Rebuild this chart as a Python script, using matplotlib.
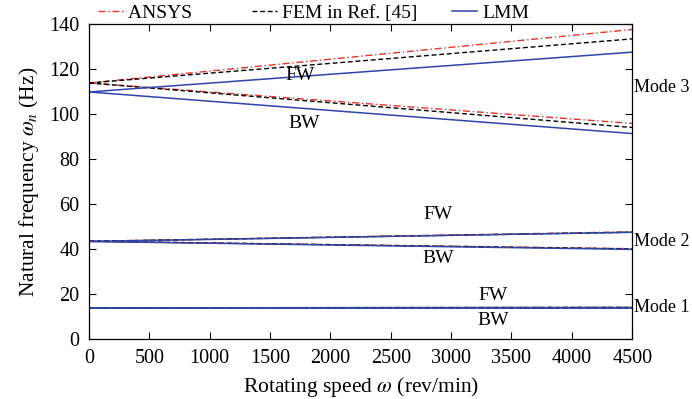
import matplotlib
matplotlib.use('Agg')
import matplotlib.pyplot as plt

plt.rcParams['font.family'] = ['Liberation Serif', 'DejaVu Serif']
plt.rcParams['mathtext.fontset'] = 'stix'

# rotating speed (rev/min), end points of each branch
speed = [0, 4500]

# ANSYS
ansys_m3_fw = [114.0, 137.8]
ansys_m3_bw = [114.0, 96.0]
ansys_m2_fw = [43.6, 47.8]
ansys_m2_bw = [43.6, 40.3]
ansys_m1_fw = [14.0, 14.2]
ansys_m1_bw = [14.0, 13.9]

# FEM in Ref. [45]
fem_m3_fw = [114.0, 133.6]
fem_m3_bw = [114.0, 94.2]
fem_m2_fw = [43.6, 47.6]
fem_m2_bw = [43.6, 40.2]
fem_m1_fw = [14.0, 14.2]
fem_m1_bw = [14.0, 13.9]

# LMM
lmm_m3_fw = [110.0, 127.7]
lmm_m3_bw = [110.0, 91.5]
lmm_m2_fw = [43.5, 47.6]
lmm_m2_bw = [43.5, 40.0]
lmm_m1_fw = [14.0, 14.1]
lmm_m1_bw = [14.0, 14.0]

xticks = [0, 500, 1000, 1500, 2000, 2500, 3000, 3500, 4000, 4500]
yticks = [0, 20, 40, 60, 80, 100, 120, 140]

red = '#e5332a'
blue = '#2f45a8'

fig = plt.figure(figsize=(6.92, 3.99), dpi=100)
ax = fig.add_axes([0.1286, 0.1496, 0.785, 0.789])

for i, y in enumerate([ansys_m3_fw, ansys_m3_bw, ansys_m2_fw, ansys_m2_bw, ansys_m1_fw, ansys_m1_bw]):
    ax.plot(speed, y, color=red, lw=1.0, dashes=(5, 2, 1, 2), label='ANSYS     ' if i == 0 else None)
for i, y in enumerate([fem_m3_fw, fem_m3_bw, fem_m2_fw, fem_m2_bw, fem_m1_fw, fem_m1_bw]):
    ax.plot(speed, y, color='black', lw=1.0, dashes=(3.5, 2), label='FEM in Ref. [45]' if i == 0 else None)
for i, y in enumerate([lmm_m3_fw, lmm_m3_bw, lmm_m2_fw, lmm_m2_bw, lmm_m1_fw, lmm_m1_bw]):
    ax.plot(speed, y, color=blue, lw=1.1, label='LMM' if i == 0 else None)

ax.set_xlim(0, 4500)
ax.set_ylim(0, 140)
ax.set_xticks(xticks)
ax.set_yticks(yticks)
ax.tick_params(direction='in', top=True, right=True, length=5, width=0.8, labelsize=14.5)
ax.tick_params(axis='x', pad=7)
ax.tick_params(axis='y', pad=7)
for s in ax.spines.values():
    s.set_linewidth(0.9)

ax.set_xlabel(r'Rotating speed $\omega$ (rev/min)', fontsize=15.5, labelpad=5)
ax.set_ylabel(r'Natural frequency $\omega_n$ (Hz)', fontsize=15.5, labelpad=6)

fs = 14
ax.text(1750, 117.5, 'FW', fontsize=fs, ha='center', va='center')
ax.text(1780, 96, 'BW', fontsize=fs, ha='center', va='center')
ax.text(2890, 55.5, 'FW', fontsize=fs, ha='center', va='center')
ax.text(2890, 36, 'BW', fontsize=fs, ha='center', va='center')
ax.text(3350, 19.5, 'FW', fontsize=fs, ha='center', va='center')
ax.text(3350, 8.4, 'BW', fontsize=fs, ha='center', va='center')

ax.text(4512, 112, 'Mode 3', fontsize=13, ha='left', va='center', clip_on=False)
ax.text(4512, 43.5, 'Mode 2', fontsize=13, ha='left', va='center', clip_on=False)
ax.text(4512, 14, 'Mode 1', fontsize=13, ha='left', va='center', clip_on=False)

ax.legend(loc='lower left', bbox_to_anchor=(0.013, 1.002), ncol=3, frameon=False,
          fontsize=14, handlelength=1.3, handletextpad=0.25, columnspacing=1.8,
          borderaxespad=0, borderpad=0.1)

fig.savefig('out.png', dpi=100)
